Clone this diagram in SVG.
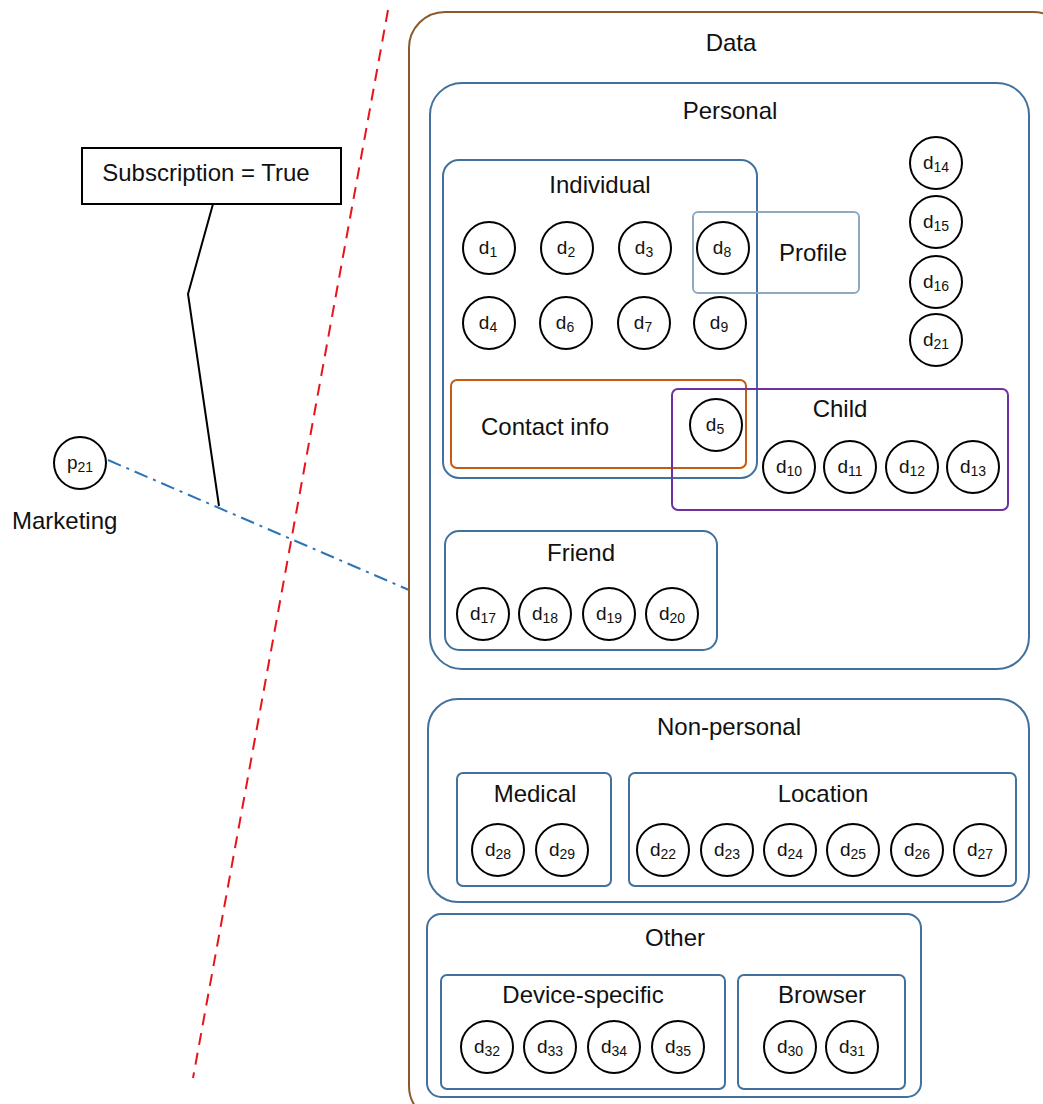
<svg xmlns="http://www.w3.org/2000/svg" width="1043" height="1104" viewBox="0 0 1043 1104">
<style>
text{font-family:"Liberation Sans","DejaVu Sans",sans-serif;fill:#111;}
.lbl{font-size:24px;text-anchor:middle;}
.box{fill:none;stroke:#41719C;stroke-width:2;}
.dn circle{fill:#fff;stroke:#000;stroke-width:2;}
.dn text{font-size:19px;text-anchor:middle;}
.sub{font-size:14px;}
</style>
<rect width="1043" height="1104" fill="#fff"/>
<g id="connectors">
<line x1="388" y1="10" x2="193" y2="1078" stroke="#E8141B" stroke-width="2" stroke-dasharray="12,8"/>
<line x1="108" y1="460" x2="409" y2="590" stroke="#2E75B6" stroke-width="2" stroke-dasharray="14,6,3,6"/>
<polyline points="213,204 188,294 219,506" fill="none" stroke="#000" stroke-width="2"/>
</g>
<g id="callout">
<rect x="82" y="148" width="259" height="56" fill="#fff" stroke="#000" stroke-width="2"/>
<text x="206" y="181" class="lbl">Subscription = True</text>
</g>
<g id="p21" class="dn">
<circle cx="80" cy="463" r="26"/>
<text x="80" y="469">p<tspan class="sub" dy="3">21</tspan></text>
<text x="12" y="529" style="font-size:24px;text-anchor:start">Marketing</text>
</g>
<g id="data">
<rect x="409" y="12" width="660" height="1110" rx="36" fill="none" stroke="#8B5A2B" stroke-width="2"/>
<text x="731" y="51" class="lbl">Data</text>
</g>
<g id="personal">
<rect x="430" y="83" width="599" height="586" rx="32" class="box"/>
<text x="730" y="119" class="lbl">Personal</text>
</g>
<g id="individual">
<rect x="443" y="160" width="314" height="318" rx="16" class="box"/>
<text x="600" y="193" class="lbl">Individual</text>
</g>
<g id="profile">
<rect x="693" y="212" width="166" height="81" rx="5" fill="none" stroke="#8FAAC0" stroke-width="2"/>
<text x="813" y="261" class="lbl">Profile</text>
</g>
<g id="contact">
<rect x="451" y="380" width="295" height="88" rx="6" fill="none" stroke="#C55A11" stroke-width="2"/>
<text x="545" y="435" class="lbl">Contact info</text>
</g>
<g id="child">
<rect x="672" y="389" width="336" height="121" rx="6" fill="none" stroke="#7030A0" stroke-width="2"/>
<text x="840" y="417" class="lbl">Child</text>
</g>
<g id="friend">
<rect x="445" y="531" width="272" height="119" rx="14" class="box"/>
<text x="581" y="561" class="lbl">Friend</text>
</g>
<g id="nonpersonal">
<rect x="428" y="699" width="601" height="203" rx="30" class="box"/>
<text x="729" y="735" class="lbl">Non-personal</text>
</g>
<g id="medical">
<rect x="457" y="773" width="154" height="113" rx="6" class="box"/>
<text x="535" y="802" class="lbl">Medical</text>
</g>
<g id="location">
<rect x="629" y="773" width="387" height="113" rx="6" class="box"/>
<text x="823" y="802" class="lbl">Location</text>
</g>
<g id="other">
<rect x="427" y="914" width="494" height="183" rx="14" class="box"/>
<text x="675" y="946" class="lbl">Other</text>
</g>
<g id="device">
<rect x="441" y="975" width="284" height="114" rx="6" class="box"/>
<text x="583" y="1003" class="lbl">Device-specific</text>
</g>
<g id="browser">
<rect x="738" y="975" width="167" height="114" rx="6" class="box"/>
<text x="822" y="1003" class="lbl">Browser</text>
</g>
<g id="d1" class="dn"><circle cx="489" cy="248" r="26"/><text x="488" y="254">d<tspan class="sub" dy="3">1</tspan></text></g>
<g id="d2" class="dn"><circle cx="567" cy="248" r="26"/><text x="566" y="254">d<tspan class="sub" dy="3">2</tspan></text></g>
<g id="d3" class="dn"><circle cx="645" cy="248" r="26"/><text x="644" y="254">d<tspan class="sub" dy="3">3</tspan></text></g>
<g id="d8" class="dn"><circle cx="723" cy="248" r="26"/><text x="722" y="254">d<tspan class="sub" dy="3">8</tspan></text></g>
<g id="d4" class="dn"><circle cx="489" cy="323" r="26"/><text x="488" y="329">d<tspan class="sub" dy="3">4</tspan></text></g>
<g id="d6" class="dn"><circle cx="566" cy="323" r="26"/><text x="565" y="329">d<tspan class="sub" dy="3">6</tspan></text></g>
<g id="d7" class="dn"><circle cx="644" cy="323" r="26"/><text x="643" y="329">d<tspan class="sub" dy="3">7</tspan></text></g>
<g id="d9" class="dn"><circle cx="720" cy="323" r="26"/><text x="719" y="329">d<tspan class="sub" dy="3">9</tspan></text></g>
<g id="d14" class="dn"><circle cx="936" cy="163" r="26"/><text x="936" y="169">d<tspan class="sub" dy="3">14</tspan></text></g>
<g id="d15" class="dn"><circle cx="936" cy="222" r="26"/><text x="936" y="228">d<tspan class="sub" dy="3">15</tspan></text></g>
<g id="d16" class="dn"><circle cx="936" cy="282" r="26"/><text x="936" y="288">d<tspan class="sub" dy="3">16</tspan></text></g>
<g id="d21" class="dn"><circle cx="936" cy="340" r="26"/><text x="936" y="346">d<tspan class="sub" dy="3">21</tspan></text></g>
<g id="d5" class="dn"><circle cx="716" cy="425" r="26"/><text x="715" y="431">d<tspan class="sub" dy="3">5</tspan></text></g>
<g id="d10" class="dn"><circle cx="789" cy="467" r="26"/><text x="789" y="473">d<tspan class="sub" dy="3">10</tspan></text></g>
<g id="d11" class="dn"><circle cx="850" cy="467" r="26"/><text x="850" y="473">d<tspan class="sub" dy="3">11</tspan></text></g>
<g id="d12" class="dn"><circle cx="912" cy="467" r="26"/><text x="912" y="473">d<tspan class="sub" dy="3">12</tspan></text></g>
<g id="d13" class="dn"><circle cx="973" cy="467" r="26"/><text x="973" y="473">d<tspan class="sub" dy="3">13</tspan></text></g>
<g id="d17" class="dn"><circle cx="483" cy="614" r="26"/><text x="483" y="620">d<tspan class="sub" dy="3">17</tspan></text></g>
<g id="d18" class="dn"><circle cx="545" cy="614" r="26"/><text x="545" y="620">d<tspan class="sub" dy="3">18</tspan></text></g>
<g id="d19" class="dn"><circle cx="609" cy="614" r="26"/><text x="609" y="620">d<tspan class="sub" dy="3">19</tspan></text></g>
<g id="d20" class="dn"><circle cx="672" cy="614" r="26"/><text x="672" y="620">d<tspan class="sub" dy="3">20</tspan></text></g>
<g id="d28" class="dn"><circle cx="498" cy="850" r="26"/><text x="498" y="856">d<tspan class="sub" dy="3">28</tspan></text></g>
<g id="d29" class="dn"><circle cx="562" cy="850" r="26"/><text x="562" y="856">d<tspan class="sub" dy="3">29</tspan></text></g>
<g id="d22" class="dn"><circle cx="663" cy="850" r="26"/><text x="663" y="856">d<tspan class="sub" dy="3">22</tspan></text></g>
<g id="d23" class="dn"><circle cx="727" cy="850" r="26"/><text x="727" y="856">d<tspan class="sub" dy="3">23</tspan></text></g>
<g id="d24" class="dn"><circle cx="790" cy="850" r="26"/><text x="790" y="856">d<tspan class="sub" dy="3">24</tspan></text></g>
<g id="d25" class="dn"><circle cx="853" cy="850" r="26"/><text x="853" y="856">d<tspan class="sub" dy="3">25</tspan></text></g>
<g id="d26" class="dn"><circle cx="917" cy="850" r="26"/><text x="917" y="856">d<tspan class="sub" dy="3">26</tspan></text></g>
<g id="d27" class="dn"><circle cx="980" cy="850" r="26"/><text x="980" y="856">d<tspan class="sub" dy="3">27</tspan></text></g>
<g id="d32" class="dn"><circle cx="487" cy="1047" r="26"/><text x="487" y="1053">d<tspan class="sub" dy="3">32</tspan></text></g>
<g id="d33" class="dn"><circle cx="550" cy="1047" r="26"/><text x="550" y="1053">d<tspan class="sub" dy="3">33</tspan></text></g>
<g id="d34" class="dn"><circle cx="614" cy="1047" r="26"/><text x="614" y="1053">d<tspan class="sub" dy="3">34</tspan></text></g>
<g id="d35" class="dn"><circle cx="678" cy="1047" r="26"/><text x="678" y="1053">d<tspan class="sub" dy="3">35</tspan></text></g>
<g id="d30" class="dn"><circle cx="790" cy="1047" r="26"/><text x="790" y="1053">d<tspan class="sub" dy="3">30</tspan></text></g>
<g id="d31" class="dn"><circle cx="852" cy="1047" r="26"/><text x="852" y="1053">d<tspan class="sub" dy="3">31</tspan></text></g>
</svg>
